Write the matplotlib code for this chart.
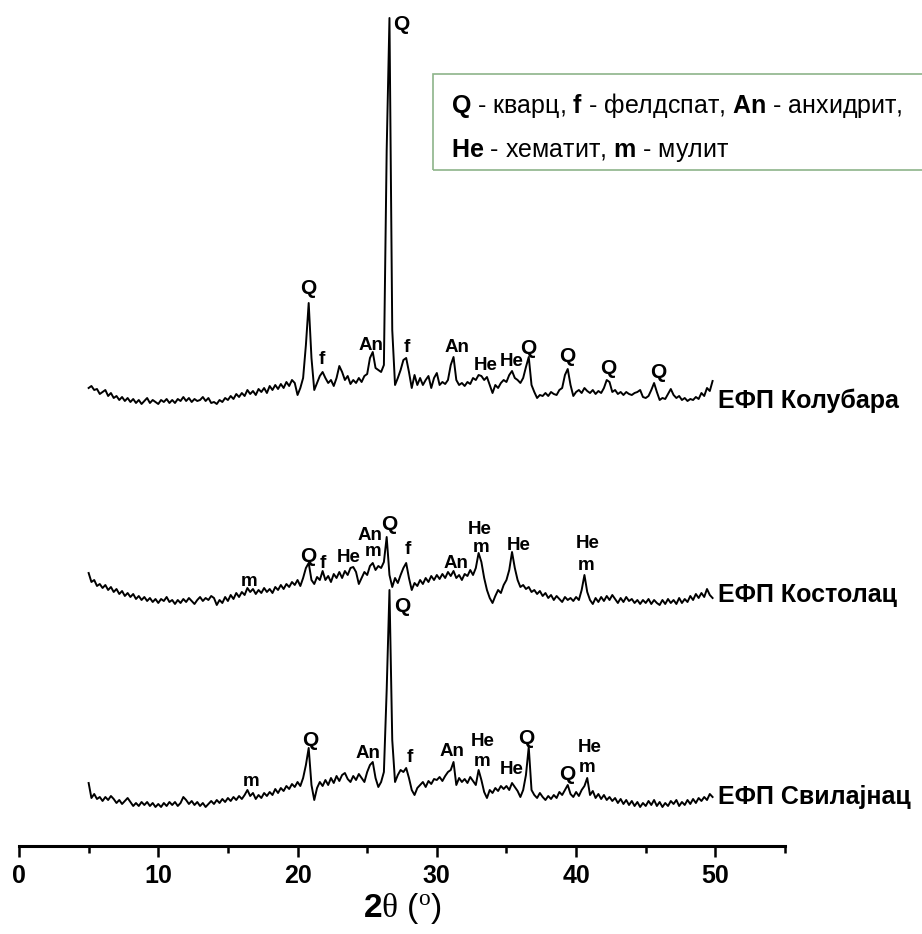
import numpy as np
import matplotlib
matplotlib.use('Agg')
import matplotlib.pyplot as plt
from matplotlib.patches import Rectangle
from matplotlib.ticker import MultipleLocator

plt.rcParams['font.family'] = ['Liberation Sans', 'DejaVu Sans']
plt.rcParams['mathtext.fontset'] = 'custom'
plt.rcParams['mathtext.rm'] = 'Liberation Serif'
plt.rcParams['mathtext.bf'] = 'Liberation Sans:bold'

# 2theta grid, 5.0 .. 49.8 in 0.2 deg steps
two_theta = np.round(np.arange(225) * 0.2 + 5.0, 1)

# intensities (a.u.)
kolubara = [
    24, 26, 22, 23, 18,  20, 22, 16, 19, 14,  16, 12, 15, 11, 14,  10, 13, 9, 12, 8,
    11, 14, 9, 12, 10,  8, 12, 10, 13, 9,  12, 9, 13, 11, 15,  11, 14, 10, 13, 11,
    12, 15, 11, 14, 9,  10, 8, 12, 10, 14,  12, 16, 13, 18, 15,  19, 16, 22, 18, 21,
    17, 23, 20, 24, 19,  26, 22, 27, 23, 28,  24, 30, 26, 32, 29,  17, 24, 34, 67, 109,
    54, 22, 29, 36, 40,  34, 29, 32, 26, 34,  46, 40, 32, 36, 28,  32, 29, 34, 30, 36,
    38, 54, 60, 44, 42,  40, 47, 262, 394, 82,  27, 34, 42, 52, 54,  40, 24, 37, 27, 34,
    27, 32, 36, 24, 34,  39, 27, 30, 28, 32,  47, 55, 32, 27, 29,  26, 30, 28, 34, 32,
    37, 36, 32, 35, 27,  19, 27, 24, 29, 32,  30, 37, 41, 34, 32,  29, 34, 45, 55, 27,
    20, 14, 17, 16, 19,  16, 20, 18, 17, 22,  24, 37, 43, 27, 16,  20, 22, 19, 24, 21,
    19, 22, 18, 21, 19,  24, 32, 30, 20, 22,  18, 20, 17, 20, 18,  17, 19, 20, 22, 15,
    14, 16, 22, 29, 20,  12, 14, 13, 18, 23,  17, 14, 16, 12, 14,  11, 13, 12, 15, 13,
    19, 16, 24, 21, 31,
]
kostolac = [
    39, 30, 32, 26, 28,  24, 27, 22, 25, 20,  23, 18, 21, 16, 19,  15, 18, 13, 16, 12,
    15, 11, 14, 10, 13,  9, 13, 11, 15, 10,  12, 8, 12, 9, 13,  10, 14, 11, 8, 12,
    15, 11, 14, 12, 16,  14, 7, 12, 9, 15,  11, 17, 13, 19, 15,  20, 17, 24, 20, 23,
    18, 22, 19, 24, 20,  23, 19, 25, 22, 27,  23, 28, 25, 30, 27,  32, 26, 34, 44, 49,
    32, 28, 35, 32, 41,  32, 36, 30, 38, 34,  40, 34, 41, 37, 44,  45, 40, 28, 34, 40,
    37, 46, 49, 42, 46,  44, 50, 75, 37, 25,  34, 29, 37, 44, 49,  34, 22, 29, 26, 32,
    28, 34, 30, 36, 32,  37, 33, 38, 34, 40,  36, 41, 34, 37, 32,  38, 36, 42, 37, 44,
    59, 50, 34, 22, 14,  9, 16, 22, 19, 27,  32, 42, 60, 44, 32,  25, 27, 23, 25, 20,
    22, 18, 21, 16, 19,  14, 17, 12, 16, 13,  10, 15, 12, 14, 11,  15, 12, 22, 37, 20,
    12, 8, 14, 10, 15,  11, 16, 12, 17, 13,  9, 14, 10, 15, 11,  13, 9, 12, 8, 12,
    9, 13, 8, 12, 9,  7, 12, 8, 13, 9,  12, 8, 14, 9, 13,  10, 16, 12, 18, 14,
    19, 15, 23, 17, 14,
]
svilajnac = [
    29, 14, 18, 13, 15,  11, 15, 12, 16, 13,  9, 12, 8, 11, 14,  10, 6, 9, 6, 10,
    7, 10, 6, 9, 5,  8, 5, 9, 6, 10,  7, 10, 6, 9, 15,  12, 8, 11, 7, 10,
    6, 9, 5, 8, 11,  8, 12, 9, 13, 10,  14, 11, 15, 12, 16,  13, 17, 22, 16, 19,
    13, 17, 14, 19, 16,  20, 17, 23, 19, 24,  21, 26, 23, 28, 25,  30, 26, 34, 47, 64,
    27, 12, 24, 30, 26,  32, 27, 34, 29, 36,  31, 37, 39, 33, 30,  36, 32, 38, 34, 30,
    40, 47, 50, 34, 25,  30, 40, 122, 222, 72,  30, 37, 42, 40, 44,  34, 22, 17, 24, 27,
    30, 25, 31, 28, 33,  32, 35, 31, 36, 40,  42, 50, 27, 34, 30,  33, 29, 35, 31, 27,
    42, 32, 20, 14, 22,  19, 24, 21, 26, 23,  26, 22, 29, 25, 21,  15, 22, 37, 65, 22,
    17, 14, 19, 15, 12,  16, 13, 17, 14, 20,  17, 22, 27, 18, 15,  20, 16, 22, 26, 34,
    17, 21, 14, 18, 13,  17, 12, 15, 11, 14,  9, 13, 8, 12, 7,  11, 6, 10, 5, 9,
    6, 11, 7, 12, 6,  10, 5, 9, 6, 11,  8, 12, 6, 10, 7,  12, 8, 13, 9, 14,
    11, 15, 12, 18, 15,
]

samples = ['ЕФП Колубара', 'ЕФП Костолац', 'ЕФП Свилајнац']
offsets = [434, 234, 34]
name_heights = [445, 251, 49]

# peak labels: (text, 2theta, height)
peaks_kolubara = [
    ('Q', 20.8, 557), ('f', 21.75, 486), ('An', 25.25, 501), ('f', 27.85, 498),
    ('An', 31.45, 498), ('He', 33.5, 480), ('He', 35.4, 485), ('Q', 36.55, 498),
    ('Q', 39.35, 489), ('Q', 42.3, 478), ('Q', 45.9, 474),
]
peaks_kostolac = [
    ('m', 16.5, 265), ('Q', 20.75, 289), ('f', 21.8, 283), ('He', 23.7, 289),
    ('m', 25.4, 294), ('An', 25.2, 310), ('Q', 26.6, 321), ('f', 27.9, 296),
    ('An', 31.4, 283), ('He', 33.1, 316), ('m', 33.2, 298), ('He', 35.9, 301),
    ('He', 40.85, 303), ('m', 40.7, 281),
]
peaks_svilajnac = [
    ('m', 16.65, 64), ('Q', 20.9, 106), ('An', 25.05, 93), ('f', 28.05, 89),
    ('An', 31.1, 94), ('He', 33.3, 104), ('m', 33.25, 84), ('He', 35.4, 76),
    ('Q', 36.45, 107), ('Q', 39.35, 71), ('He', 41.0, 98), ('m', 40.8, 78),
]
peak_labels = [peaks_kolubara, peaks_kostolac, peaks_svilajnac]

fig = plt.figure(figsize=(9.22, 9.34), dpi=100)
ax = fig.add_axes([19 / 922, 88 / 934, 766 / 922, 846 / 934])

for vals, off, name, nh, peaks in zip([kolubara, kostolac, svilajnac], offsets, samples,
                                       name_heights, peak_labels):
    y = np.array(vals) + off
    ax.plot(two_theta, y, color='black', lw=1.4)
    ax.text(50.2, nh, name, fontsize=18, fontweight='bold',
            ha='left', va='center', clip_on=False)
    for lab, xp, yp in peaks:
        ax.text(xp, yp, lab, fontsize=15 if lab == 'Q' else 13.5, fontweight='bold',
                ha='center', va='center')

# big quartz peaks
ax.text(26.85, 822, 'Q', fontsize=15, fontweight='bold', ha='left', va='center')
ax.text(26.9, 239, 'Q', fontsize=15, fontweight='bold', ha='left', va='center')

ax.set_xlim(0, 55)
ax.set_ylim(0, 846)
for s in ['left', 'right', 'top']:
    ax.spines[s].set_visible(False)
ax.spines['bottom'].set_linewidth(2.2)
ax.set_yticks([])
ax.xaxis.set_major_locator(MultipleLocator(10))
ax.xaxis.set_minor_locator(MultipleLocator(5))
ax.tick_params(axis='x', which='major', length=8, width=1.8, labelsize=18, pad=5)
ax.tick_params(axis='x', which='minor', length=5, width=1.8)
for t in ax.get_xticklabels():
    t.set_fontweight('bold')
ax.set_xlabel(r'$\mathbf{2}\mathrm{\theta}$ ($\mathrm{^o}$)', fontsize=24, labelpad=2)

# legend box with phase names
fig.patches.append(Rectangle((433 / 922, 1 - 170 / 934), 0.6, 96 / 934, transform=fig.transFigure,
                             fill=False, edgecolor='#8db48a', lw=1.2))
fig.text(451 / 922, 1 - 105 / 934,
         r'$\mathbf{Q}$ - кварц, $\mathbf{f}$ - фелдспат, $\mathbf{An}$ - анхидрит,',
         fontsize=18, va='center', ha='left')
fig.text(451 / 922, 1 - 151 / 934, r'$\mathbf{He}$ - хематит, $\mathbf{m}$ - мулит',
         fontsize=18, va='center', ha='left')

fig.savefig('out.png', dpi=100)
